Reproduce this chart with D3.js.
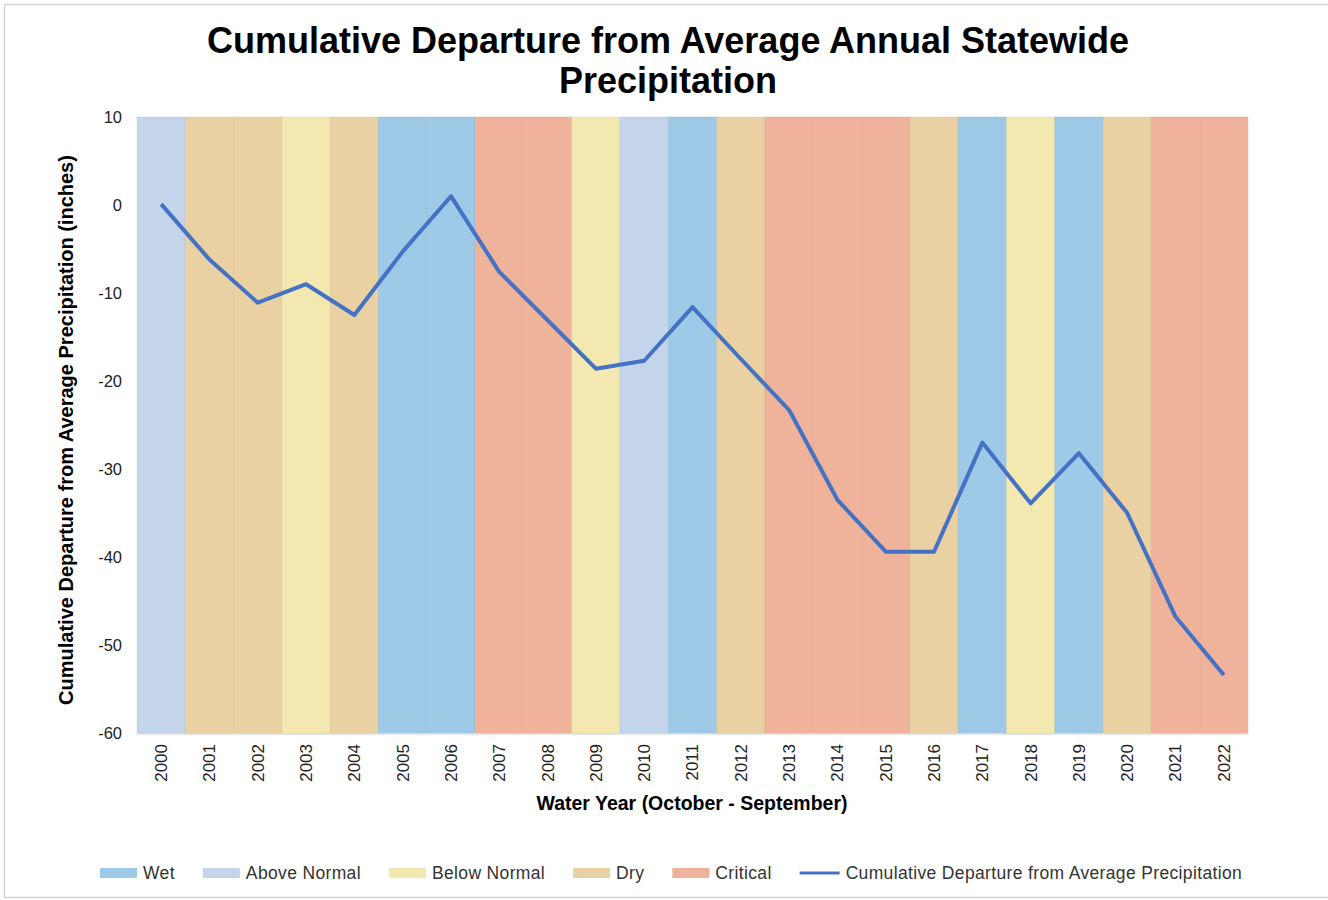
<!DOCTYPE html>
<html>
<head>
<meta charset="utf-8">
<script src="https://cdn.jsdelivr.net/npm/d3@7"></script>
<style>
  body { margin: 0; background: #fff; }
  text { font-family: "Liberation Sans", Arial, sans-serif; }
</style>
</head>
<body>
<svg id="chart" width="1328" height="900"></svg>
<script>
  // data
  const years = ["2000","2001","2002","2003","2004","2005","2006","2007","2008","2009","2010","2011",
                 "2012","2013","2014","2015","2016","2017","2018","2019","2020","2021","2022"];
  const yearTypes = ["Above Normal","Dry","Dry","Below Normal","Dry","Wet","Wet","Critical","Critical",
                     "Below Normal","Above Normal","Wet","Dry","Critical","Critical","Critical","Dry",
                     "Wet","Below Normal","Wet","Dry","Critical","Critical"];
  const departure = [0.1, -6.2, -11.1, -9.0, -12.5, -5.3, 1.0, -7.6, -13.1, -18.6, -17.7, -11.6,
                     -17.5, -23.3, -33.5, -39.4, -39.4, -27.0, -33.9, -28.2, -35.0, -46.8, -53.4];
  const typeNames = ["Wet", "Above Normal", "Below Normal", "Dry", "Critical"];
  const typeColors = ["#9ec9e7", "#c4d4eb", "#f4e8b1", "#e9d1a4", "#efb39b"];
  const yTicks = [10, 0, -10, -20, -30, -40, -50, -60];
  const lineName = "Cumulative Departure from Average Precipitation";

  const margin = { top: 117, right: 80, bottom: 167, left: 137 };
  const W = 1328, H = 900;

  const svg = d3.select("#chart");

  // light frame around the picture
  svg.append("rect")
    .attr("x", 4.5).attr("y", 4.5)
    .attr("width", 1340).attr("height", 893)
    .attr("fill", "none").attr("stroke", "#d6d6d6").attr("stroke-width", 1.5);

  const color = d3.scaleOrdinal().domain(typeNames).range(typeColors);

  const x = d3.scaleBand().domain(years).range([margin.left, W - margin.right]).padding(0);
  const y = d3.scaleLinear().domain([-60, 10]).range([H - margin.bottom, margin.top]);

  // year-type bands
  svg.append("g")
    .selectAll("rect")
    .data(years)
    .join("rect")
    .attr("x", d => x(d))
    .attr("y", y(10))
    .attr("width", x.bandwidth())
    .attr("height", y(-60) - y(10))
    .attr("fill", (d, i) => color(yearTypes[i]))
    .attr("stroke", (d, i) => d3.color(color(yearTypes[i])).darker(0.35))
    .attr("stroke-opacity", 0.35)
    .attr("stroke-width", 1);

  // bottom axis line
  svg.append("line")
    .attr("x1", x.range()[0]).attr("x2", x.range()[1])
    .attr("y1", y(-60) + 1).attr("y2", y(-60) + 1)
    .attr("stroke", "#d9d9d9").attr("stroke-width", 1.5);

  // y axis
  const yAxis = svg.append("g")
    .attr("transform", `translate(${margin.left},0)`)
    .call(d3.axisLeft(y).tickValues(yTicks).tickFormat(d => String(d)).tickSize(0).tickPadding(15));
  yAxis.select(".domain").remove();
  yAxis.selectAll("text")
    .attr("font-size", 16.5)
    .attr("fill", "#222")
    .style("font-family", "'Liberation Sans', Arial, sans-serif");

  // x axis, rotated labels
  const xAxis = svg.append("g")
    .attr("transform", `translate(0,${y(-60)})`)
    .call(d3.axisBottom(x).tickSize(0));
  xAxis.select(".domain").remove();
  xAxis.selectAll("text")
    .attr("font-size", 17)
    .attr("fill", "#222")
    .style("font-family", "'Liberation Sans', Arial, sans-serif")
    .attr("text-anchor", "end")
    .attr("transform", "rotate(-90)")
    .attr("x", -11)
    .attr("y", 0)
    .attr("dy", "0.35em");

  // line
  const line = d3.line()
    .x((d, i) => x(years[i]) + x.bandwidth() / 2)
    .y(d => y(d));

  svg.append("path")
    .datum(departure)
    .attr("fill", "none")
    .attr("stroke", "#4472c4")
    .attr("stroke-width", 4)
    .attr("stroke-linejoin", "round")
    .attr("d", line);

  // titles
  svg.append("text")
    .attr("x", 668).attr("y", 53)
    .attr("text-anchor", "middle")
    .attr("font-size", 36).attr("font-weight", "bold")
    .text("Cumulative Departure from Average Annual Statewide");
  svg.append("text")
    .attr("x", 668).attr("y", 93)
    .attr("text-anchor", "middle")
    .attr("font-size", 36).attr("font-weight", "bold")
    .text("Precipitation");

  svg.append("text")
    .attr("x", 692).attr("y", 810)
    .attr("text-anchor", "middle")
    .attr("font-size", 19.5).attr("font-weight", "bold")
    .text("Water Year (October - September)");

  svg.append("text")
    .attr("transform", "translate(73,430) rotate(-90)")
    .attr("text-anchor", "middle")
    .attr("font-size", 20).attr("font-weight", "bold")
    .text("Cumulative Departure from Average Precipitation (inches)");

  // legend
  const legend = svg.append("g").attr("transform", "translate(100,873)");
  const items = typeNames.map(n => ({ name: n, type: "rect" }))
    .concat([{ name: lineName, type: "line" }]);
  let lx = 0;
  items.forEach(it => {
    const g = legend.append("g").attr("transform", `translate(${lx},0)`);
    if (it.type === "rect") {
      g.append("rect")
        .attr("x", 0).attr("y", -5)
        .attr("width", 37).attr("height", 10)
        .attr("fill", color(it.name));
    } else {
      g.append("line")
        .attr("x1", 0).attr("x2", 40)
        .attr("y1", 0).attr("y2", 0)
        .attr("stroke", "#4472c4").attr("stroke-width", 3);
    }
    const sw = it.type === "rect" ? 37 : 40;
    const t = g.append("text")
      .attr("x", sw + 6).attr("y", 0).attr("dy", "0.35em")
      .attr("font-size", 17.5).attr("fill", "#333")
      .attr("letter-spacing", 0.35)
      .text(it.name);
    lx += sw + 6 + t.node().getComputedTextLength() + 28;
  });
</script>
</body>
</html>
